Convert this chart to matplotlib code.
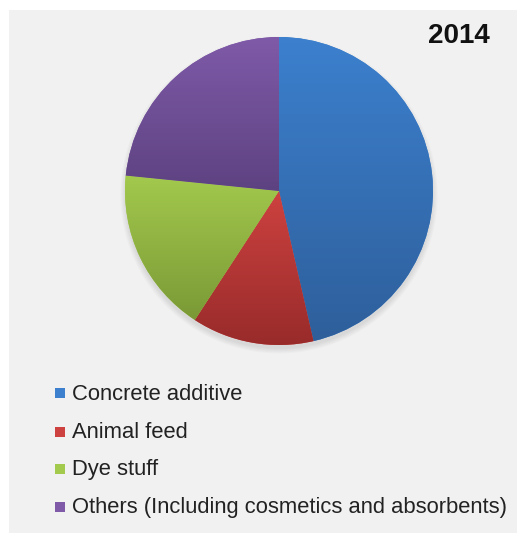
import numpy as np
import matplotlib
matplotlib.use("Agg")
from matplotlib import pyplot as plt
from matplotlib.patches import Rectangle, Ellipse
from matplotlib.colors import LinearSegmentedColormap

# segment shares for 2014 (%)
segments = ["Concrete additive", "Animal feed", "Dye stuff",
            "Others (Including cosmetics and absorbents)"]
shares = [46.4, 12.8, 17.4, 23.4]
year = "2014"

# light (top) and dark (bottom) shade of each slice
top_colors = ["#3c80ce", "#cd4240", "#a3c94d", "#7f5aa8"]
bottom_colors = ["#2e5f9b", "#982b2a", "#7a9936", "#5d4281"]

plt.rcParams["font.family"] = ["Liberation Sans", "DejaVu Sans"]

W, H = 517, 533
fig = plt.figure(figsize=(W / 100, H / 100), dpi=100)
fig.patch.set_facecolor("white")

# grey panel behind everything
fig.patches.append(Rectangle((9 / W, 0), 1 - 9 / W, 1 - 10 / H,
                             transform=fig.transFigure, facecolor="#f1f1f1",
                             edgecolor="none", zorder=-5))

cx, cy, r = 279, 191, 154
ax = fig.add_axes([(cx - r) / W, (H - cy - r) / H, 2 * r / W, 2 * r / H])
ax.set_zorder(1)
ax.patch.set_visible(False)
ax.axis("off")

# faint shadow under the pie
for k in range(5):
    ax.add_patch(Ellipse((0.0, -0.025), 2.0 + k * 0.015, 2.0 + k * 0.015,
                         facecolor="#000000", alpha=0.02, edgecolor="none",
                         zorder=0, clip_on=False))

wedges, _ = ax.pie(shares, startangle=90, counterclock=False, radius=1.0,
                   colors=top_colors, wedgeprops=dict(linewidth=0))

for w, c0, c1 in zip(wedges, top_colors, bottom_colors):
    ext = w.get_path().get_extents()
    ymin, ymax = max(ext.y0, -1), min(ext.y1, 1)
    cmap = LinearSegmentedColormap.from_list("g", [c1, c0])
    grad = np.linspace(0, 1, 256).reshape(-1, 1)
    im = ax.imshow(grad, cmap=cmap, origin="lower", aspect="auto",
                   extent=[-1, 1, ymin, ymax], zorder=2, interpolation="bilinear")
    im.set_clip_path(w)

ax.set_xlim(-1.0, 1.0)
ax.set_ylim(-1.0, 1.0)

fig.text(459 / W, 1 - 36 / H, year, ha="center", va="center",
         fontsize=20, fontweight="bold", color="#111111")

# legend rows
row_y = [394, 433, 470, 508]
for lab, c, y in zip(segments, top_colors, row_y):
    fig.patches.append(Rectangle((55 / W, 1 - (y + 4) / H), 10 / W, 10 / H,
                                 transform=fig.transFigure, facecolor=c,
                                 edgecolor="none", zorder=3))
    fig.text(72 / W, 1 - y / H, lab, ha="left", va="center",
             fontsize=15.8, color="#222222")

fig.savefig("out.png", dpi=100)
